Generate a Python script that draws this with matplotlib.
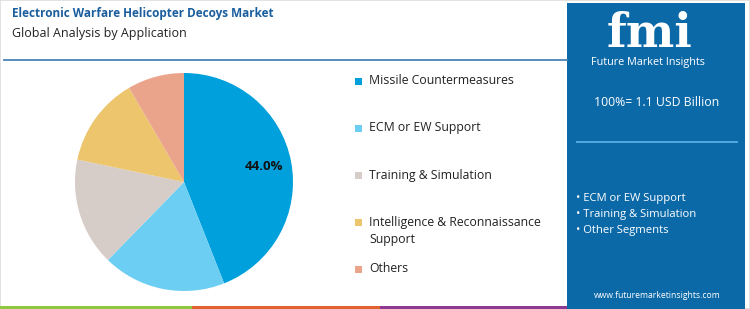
import matplotlib
matplotlib.use("Agg")
import matplotlib.pyplot as plt
from matplotlib.patches import Rectangle

# ---- data ----
categories = ["Missile Countermeasures", "ECM or EW Support", "Training & Simulation",
              "Intelligence & Reconnaissance\nSupport", "Others"]
values = [44.0, 18.3, 16.0, 13.3, 8.4]
colors = ["#00A0DC", "#6DCEF4", "#D6CCC8", "#ECC56C", "#EBA48C"]
title = "Electronic Warfare Helicopter Decoys Market"
subtitle = "Global Analysis by Application"
total_text = "100%= 1.1 USD Billion"
bullets = ["ECM or EW Support", "Training & Simulation", "Other Segments"]
website = "www.futuremarketinsights.com"
stripe_colors = ["#8DC641", "#E0622E", "#8E3A93"]

W, H = 750, 309
plt.rcParams['font.family'] = ['Open Sans', 'DejaVu Sans']
fig = plt.figure(figsize=(W / 100, H / 100), dpi=100)
fig.patch.set_facecolor("white")

def fx(x):
    return x / W

def fy(y):
    return 1 - y / H

# frame
fig.add_artist(Rectangle((0, 0), 1, 1, transform=fig.transFigure, fill=False,
                         edgecolor="#DDDDDD", linewidth=1.2))

# titles
fig.text(fx(12), fy(14), title, fontsize=8.5, fontweight="bold", color="#1B5E9E",
         va="center", ha="left")
fig.text(fx(12), fy(34), subtitle, fontsize=9, color="#222222", va="center", ha="left")

# separator line
fig.add_artist(plt.Line2D([fx(4), fx(567)], [fy(60), fy(60)], transform=fig.transFigure,
                          color="#4A84B6", linewidth=1.3))

# bottom stripe
bounds = [0, 192, 380, 570]
for i, c in enumerate(stripe_colors):
    fig.add_artist(Rectangle((fx(bounds[i]), 0), fx(bounds[i + 1] - bounds[i]), 3.5 / H,
                             transform=fig.transFigure, color=c, linewidth=0))

# right panel
fig.add_artist(Rectangle((fx(567), 0), fx(745 - 567), fy(3), transform=fig.transFigure,
                         color="#0B69A8", linewidth=0))
fig.text(fx(650), fy(47), "fmi", fontsize=33, fontweight="bold", family="DejaVu Serif",
         color="white", ha="center", va="baseline")
fig.text(fx(648), fy(62), "Future Market Insights", fontsize=7.8, color="white",
         ha="center", va="center")
fig.text(fx(657), fy(102), total_text, fontsize=8.8, color="white", ha="center", va="center")
fig.add_artist(plt.Line2D([fx(577), fx(737)], [fy(142), fy(142)], transform=fig.transFigure,
                          color="#5AAEE6", linewidth=1.3))
for i, b in enumerate(bullets):
    fig.text(fx(576), fy(199 + 16 * i), "• " + b, fontsize=8.1, color="white",
             ha="left", va="center")
fig.text(fx(657), fy(296), website, fontsize=6.2, color="white", ha="center", va="center")

# pie
cx, cy, r = 184, 182, 109
ax = fig.add_axes([fx(cx - r), 1 - (cy + r) / H, fx(2 * r), 2 * r / H])
wedges, texts, autotexts = ax.pie(values, colors=colors, startangle=90, counterclock=False,
                                  autopct=lambda p: f"{p:.1f}%" if p > 40 else "",
                                  pctdistance=0.75, wedgeprops=dict(linewidth=0))
for t in autotexts:
    t.set_fontsize(9.5)
    t.set_fontweight("bold")
    t.set_color("#111111")
ax.set_xlim(-1, 1)
ax.set_ylim(-1, 1)
ax.set_aspect("auto")
ax.axis("off")

# legend
ys = [81, 128, 175, 222, 269]
for y, lab, c in zip(ys, categories, colors):
    fig.add_artist(Rectangle((fx(355), fy(y + 3.5)), fx(7), 7 / H, transform=fig.transFigure,
                             color=c, linewidth=0))
    if "\n" in lab:
        fig.text(fx(369), fy(y - 6), lab, fontsize=8.8, color="#222222", ha="left",
                 va="top", linespacing=1.38)
    else:
        fig.text(fx(369), fy(y), lab, fontsize=8.8, color="#222222", ha="left", va="center")
fig.savefig("out.png", dpi=100)
